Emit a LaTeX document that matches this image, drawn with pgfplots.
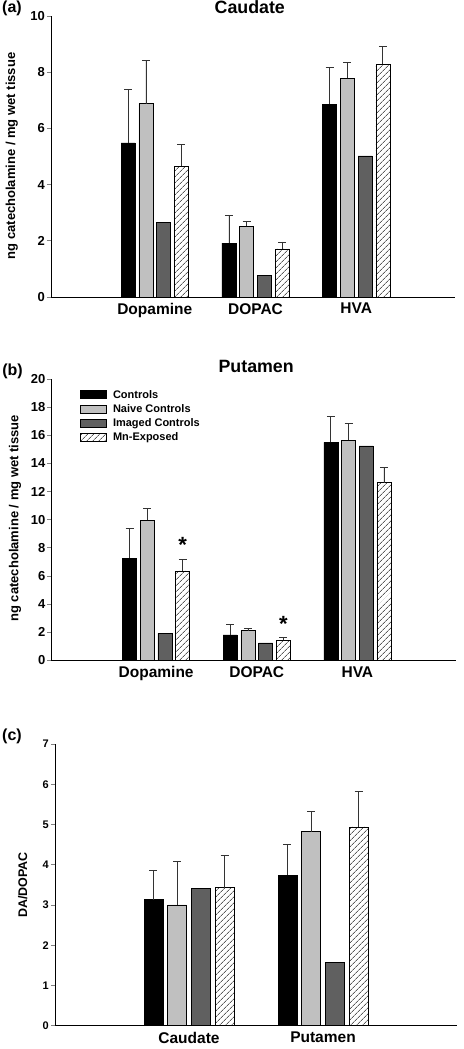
\documentclass[border=0pt]{standalone}
\usepackage{pgfplots}
\pgfplotsset{compat=1.18}
\usetikzlibrary{patterns.meta}
\usepackage{fontspec}
\setmainfont{Liberation Sans}
\definecolor{lgray}{HTML}{C0C0C0}
\definecolor{dgray}{HTML}{606060}
\definecolor{ebar}{HTML}{333333}
\pgfplotsset{
  panel/.style={
    scale only axis, axis lines=left, axis line style={-, line width=0.8pt},
    ymin=0, tick align=outside, major tick length=4pt,
    xtick style={draw=none}, ytick style={line width=0.7pt},
    /pgf/number format/assume math mode=true,
    yticklabel style={font=\bfseries\fontsize{13}{14}\selectfont, inner sep=2pt},
    xticklabel style={font=\bfseries\fontsize{15.5}{16}\selectfont, inner sep=1pt, yshift=-1pt},
    ylabel style={font=\bfseries\fontsize{13}{14}\selectfont},
    title style={font=\bfseries\fontsize{17.8}{18}\selectfont, anchor=center},
    ybar, bar width=14pt,
    clip=false,
    error bars/y dir=plus, error bars/y explicit,
    error bars/error bar style={line width=0.7pt, ebar},
    error bars/error mark options={line width=0.7pt, ebar, mark size=4pt, rotate=90},
  },
  s1/.style={fill=black, draw=black, line width=0.6pt},
  s2/.style={fill=lgray, draw=black, line width=0.6pt},
  s3/.style={fill=dgray, draw=black, line width=0.6pt},
  s4/.style={pattern={Lines[angle=45, distance=4pt, line width=0.5pt]}, draw=black, line width=0.6pt},
  legbox/.style={legend image code/.code={\draw[##1] (0pt,-4pt) rectangle (26pt,4pt);}},
}
\begin{document}
\begin{tikzpicture}
% panel labels
\node[font=\bfseries\fontsize{16}{17}\selectfont] at (12pt,1041pt) {(a)};
\node[font=\bfseries\fontsize{16}{17}\selectfont] at (12.5pt,678pt) {(b)};
\node[font=\bfseries\fontsize{16}{17}\selectfont] at (12pt,313pt) {(c)};

% (a) Caudate
\begin{axis}[panel, at={(51pt,752pt)}, anchor=south west, width=404pt, height=281pt,
  xmin=-0.03, xmax=3.98, ymax=10, ytick={0,2,...,10}, ybar=3.7pt,
  xtick={1,2,3}, xticklabels={Dopamine,DOPAC,HVA},
  ylabel={ng catecholamine / mg wet tissue},
  ylabel style={at={(axis description cs:-0.097,0.502)}, anchor=center},
  title={Caudate}, title style={at={(axis description cs:0.492,1.011)}}]
\addplot[s1] coordinates {(1,5.48) +- (0,1.90) (2,1.92) +- (0,1.00) (3,6.86) +- (0,1.30)};
\addplot[s2] coordinates {(1,6.88) +- (0,1.55) (2,2.51) +- (0,0.19) (3,7.78) +- (0,0.57)};
\addplot[s3, error bars/y dir=none] coordinates {(1,2.65) (2,0.77) (3,5.02)};
\addplot[s4] coordinates {(1,4.65) +- (0,0.79) (2,1.71) +- (0,0.25) (3,8.28) +- (0,0.63)};
\end{axis}

% (b) Putamen
\begin{axis}[panel, at={(51.5pt,388.7pt)}, anchor=south west, width=404.5pt, height=281.3pt,
  xmin=-0.04, xmax=3.98, ymax=20, ytick={0,2,...,20}, ybar=3.7pt,
  xtick={1,2,3}, xticklabels={Dopamine,DOPAC,HVA},
  ylabel={ng catecholamine / mg wet tissue},
  ylabel style={at={(axis description cs:-0.09,0.505)}, anchor=center},
  title={Putamen}, title style={at={(axis description cs:0.506,1.024)}},
  legend style={at={(axis description cs:0.071,0.965)}, anchor=north west, draw=none, fill=none,
    font=\bfseries\fontsize{11}{12}\selectfont, inner sep=0pt, row sep=2.8pt,
    nodes={inner sep=0pt, text height=9pt, text depth=2.5pt},
    /tikz/every odd column/.style={column sep=6pt}},
  legend cell align=left]
\addplot[s1, legbox] coordinates {(1,7.27) +- (0,2.11) (2,1.80) +- (0,0.74) (3,15.50) +- (0,1.85)};
\addplot[s2, legbox] coordinates {(1,9.95) +- (0,0.85) (2,2.11) +- (0,0.14) (3,15.64) +- (0,1.21)};
\addplot[s3, legbox, error bars/y dir=none] coordinates {(1,1.92) (2,1.23) (3,15.24)};
\addplot[s4, legbox] coordinates {(1,6.35) +- (0,0.85) (2,1.42) +- (0,0.21) (3,12.63) +- (0,1.11)};
\legend{Controls,Naive Controls,Imaged Controls,Mn-Exposed}
\node[font=\bfseries\fontsize{22}{22}\selectfont] at (axis cs:1.264,8.2) {*};
\node[font=\bfseries\fontsize{22}{22}\selectfont] at (axis cs:2.264,2.6) {*};
\end{axis}

% (c) DA/DOPAC
\begin{axis}[panel, at={(55pt,23.3pt)}, anchor=south west, width=402pt, height=281.7pt,
  xmin=0, xmax=3, ymax=7, ytick={0,1,...,7}, bar width=18.8pt, ybar=4.9pt,
  yticklabel style={font=\bfseries\fontsize{11}{12}\selectfont},
  xtick={1,2}, xticklabels={Caudate,Putamen},
  ylabel={DA/DOPAC},
  ylabel style={at={(axis description cs:-0.080,0.5)}, anchor=center, font=\bfseries\fontsize{12.5}{13}\selectfont}]
\addplot[s1] coordinates {(1,3.13) +- (0,0.72) (2,3.74) +- (0,0.76)};
\addplot[s2] coordinates {(1,3.00) +- (0,1.08) (2,4.82) +- (0,0.51)};
\addplot[s3, error bars/y dir=none] coordinates {(1,3.41) (2,1.57)};
\addplot[s4] coordinates {(1,3.43) +- (0,0.80) (2,4.94) +- (0,0.89)};
\end{axis}
\pgfresetboundingbox
\useasboundingbox (0,0) rectangle (463pt,1049pt);
\end{tikzpicture}
\end{document}
